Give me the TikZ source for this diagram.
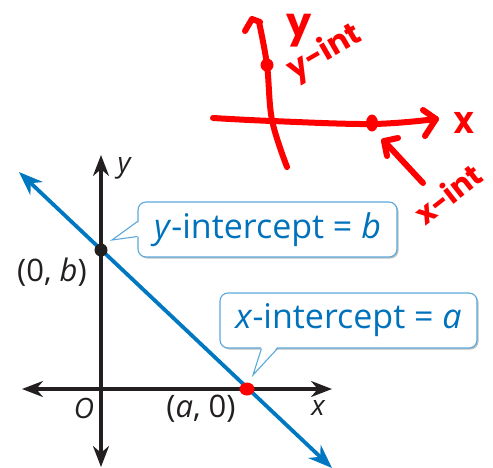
\documentclass[tikz,border=0pt]{standalone}
\usepackage{fontspec}
\setmainfont{Open Sans}
\newfontfamily\handfont{Poppins}
\usetikzlibrary{arrows.meta,calc,shadows,shapes.geometric}
\definecolor{axisblack}{HTML}{231F20}
\definecolor{lineblue}{HTML}{0078C1}
\definecolor{textblue}{HTML}{0072BC}
\definecolor{boxblue}{HTML}{5BA8DC}
\definecolor{marker}{HTML}{FF0000}
\begin{document}
\begin{tikzpicture}[x=1pt,y=-1pt,
  axisline/.style={draw=axisblack, line width=3.2pt,
    {Stealth[length=21pt,width=16pt]}-{Stealth[length=21pt,width=16pt]}},
  blueline/.style={draw=lineblue, line width=3.8pt,
    {Stealth[length=24pt,width=18pt]}-{Stealth[length=24pt,width=18pt]}},
  callbox/.style={draw=boxblue, line width=1.1pt, rounded corners=8pt, fill=white,
    inner sep=0pt, text=textblue, font=\fontsize{34}{34}\selectfont,
    drop shadow={shadow xshift=1.5pt, shadow yshift=-1.5pt, opacity=0.25, fill=black}},
  pointer/.style={draw=boxblue, line width=1.1pt, line join=miter},
  lbl/.style={text=axisblack, font=\fontsize{31}{31}\selectfont, inner sep=0pt},
  axlbl/.style={text=axisblack, font=\itshape\fontsize{28}{28}\selectfont, inner sep=0pt},
  ink/.style={draw=marker, line width=6pt, line cap=round, line join=round},
  inktext/.style={text=marker, font=\handfont\bfseries\fontsize{#1}{#1}\selectfont, inner sep=0pt},
]
\useasboundingbox (0,0) rectangle (493,467);

% ---- textbook graph ----
\coordinate (ytop) at (101,155);
\coordinate (ybot) at (101,467);
\coordinate (xleft) at (22,389);
\coordinate (xright) at (332,389);
\draw[axisline] (ybot) -- (ytop);
\draw[axisline] (xleft) -- (xright);

\coordinate (lstart) at (19,172);
\coordinate (lend) at (332,468);
\draw[blueline] (lend) -- (lstart);

\node[circle, fill=axisblack, minimum size=13pt, inner sep=0pt] (yint) at (101,250) {};
\node[ellipse, fill=marker, minimum width=15pt, minimum height=13pt, inner sep=0pt] (xint) at (247,389) {};

\node[axlbl] (ylab) at (124,168) {y};
\node[lbl] (ob) at (52,272) {(0, \textit{b})};
\node[axlbl] (olab) at (84,408) {O};
\node[lbl] (ao) at (201,409) {(\textit{a}, 0)};
\node[axlbl] (xlab) at (318,408) {x};

% callouts
\node[callbox, minimum width=259pt, minimum height=55pt] (yb) at (267.5,229.5) {\textit{y}-intercept = \textit{b}};
\coordinate (ytip) at (112,240);
\fill[white] ($(yb.west)+(2,-8)$) -- (ytip) -- ($(yb.west)+(2,7)$) -- cycle;
\draw[pointer] ($(yb.west)+(0,-8)$) -- (ytip) -- ($(yb.west)+(0,7)$);

\node[callbox, minimum width=257pt, minimum height=55pt] (xb) at (348.5,320.5) {\textit{x}-intercept = \textit{a}};
\coordinate (xtip) at (253,375);
\fill[white] ($(xb.south west)+(42,-2)$) -- (xtip) -- ($(xb.south west)+(58,-2)$) -- cycle;
\draw[pointer] ($(xb.south west)+(42,0)$) -- (xtip) -- ($(xb.south west)+(58,0)$);

% ---- red handwritten sketch ----
\coordinate (ry0) at (259,22);
\coordinate (ry1) at (267,65);
\coordinate (ry2) at (272,120);
\coordinate (ry3) at (287,167);
\draw[ink] plot[smooth, tension=0.6] coordinates {(ry0) (ry1) (ry2) (ry3)};
\draw[ink] (245,31) -- (252,19) -- (260,22);

\coordinate (rx0) at (213,118);
\coordinate (rx3) at (436,119);
\draw[ink] plot[smooth, tension=0.6] coordinates {(rx0) (272,121) (372,124) (rx3)};
\draw[ink] (423,110) -- (rx3) -- (425,136);

\node[circle, fill=marker, minimum size=13pt, inner sep=0pt] (rydot) at (267,65) {};
\node[ellipse, fill=marker, minimum width=12pt, minimum height=17pt, inner sep=0pt] (rxdot) at (372,123) {};

\node[inktext=40, anchor=base] (ry) at (299,36) {y};
\node[inktext=30, anchor=base] (rX) at (464,133) {X};
\node[inktext=31, rotate=30] (ryint) at (325,53) {y-int};
\node[inktext=30, rotate=38] (rxint) at (448,194) {x-int};

\coordinate (arrtip) at (384,141);
\coordinate (arrtail) at (423,183);
\draw[ink] (arrtail) -- (arrtip);
\draw[ink] (398,138) -- (arrtip) -- (387,156);
\end{tikzpicture}
\end{document}
